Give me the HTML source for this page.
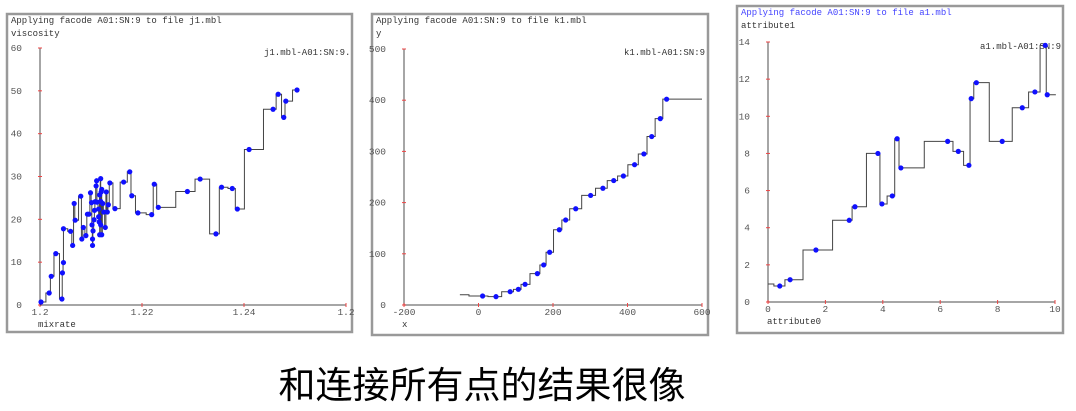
<!DOCTYPE html>
<html><head><meta charset="utf-8"><style>
html,body{margin:0;padding:0;background:#fff;width:1076px;height:411px;overflow:hidden}
svg text{font-family:"Liberation Mono",monospace}
</style></head><body>
<svg id="s" width="1076" height="411" xmlns="http://www.w3.org/2000/svg">
<text x="482" y="398" text-anchor="middle" font-size="37" style='font-family:"Liberation Sans","Noto Sans CJK SC",sans-serif' fill="#000">和连接所有点的结果很像</text>
</svg>
<script>
// Panel 1 data (mixrate vs viscosity)
const p1x=[1.2002,1.2018,1.2022,1.2031,1.2043,1.2044,1.2046,1.2046,1.2060,1.2064,1.2067,1.2069,1.2080,1.2082,1.2085,1.2090,1.2093,1.2096,1.2099,1.2101,1.2102,1.2103,1.2103,1.2104,1.2106,1.2107,1.2108,1.2110,1.2111,1.2112,1.2115,1.2115,1.2116,1.2117,1.2117,1.2119,1.2119,1.2119,1.2120,1.2121,1.2121,1.2123,1.2125,1.2128,1.2130,1.2132,1.2134,1.2137,1.2147,1.2164,1.2176,1.2180,1.2192,1.2219,1.2224,1.2232,1.2289,1.2314,1.2345,1.2356,1.2377,1.2387,1.2410,1.2457,1.2467,1.2478,1.2482,1.2504];
const p1y=[0.7,2.8,6.7,12.0,1.4,7.5,9.9,17.8,17.2,13.9,23.7,19.8,25.4,15.4,18.1,16.2,21.2,21.2,26.2,23.9,18.7,15.4,13.9,17.3,19.9,22.1,24.1,27.8,29.0,24.0,22.4,20.6,19.4,25.7,16.4,29.5,24.2,18.7,26.4,27.0,16.4,23.7,21.7,18.1,26.4,21.7,23.4,28.5,22.5,28.7,31.1,25.5,21.5,21.1,28.2,22.8,26.5,29.4,16.6,27.5,27.2,22.4,36.3,45.7,49.2,43.8,47.6,50.2];
const p1xt=["1.2","1.22","1.24","1.2"];const p1xtv=[1.2,1.22,1.24,1.26];
const p1yt=[0,10,20,30,40,50,60];
// Panel 2 data (x vs y)
const p2x=[11,47,85,107,125,158,175,191,217,234,261,301,334,363,389,419,444,465,488,505];
const p2y=[17.6,16.3,26,30.6,40.4,61.3,78.2,103,147,166,188,214,228,243,252,274,295,329,364,402];
const p2xt=[-200,0,200,400,600];const p2yt=[0,100,200,300,400,500];
// Panel 3 data (attribute0 vs attribute1)
const p3x=[0.41,0.77,1.67,2.83,3.03,3.83,3.97,4.33,4.50,4.63,6.26,6.63,7.00,7.08,7.26,8.16,8.86,9.30,9.66,9.73];
const p3y=[0.86,1.20,2.80,4.40,5.13,8.00,5.28,5.71,8.79,7.22,8.65,8.11,7.36,10.95,11.81,8.65,10.46,11.31,13.82,11.16];
const p3xt=[0,2,4,6,8,10];const p3yt=[0,2,4,6,8,10,12,14];

const NS="http://www.w3.org/2000/svg";const S=document.getElementById('s');
function el(t,a,p){const e=document.createElementNS(NS,t);for(const k in a)e.setAttribute(k,a[k]);(p||S).appendChild(e);return e;}
function txt(x,y,s,sz,fill,anchor,p){const e=el('text',{x:x,y:y,'font-size':sz,fill:fill,'text-anchor':anchor||'start'},p);e.textContent=s;return e;}

function panel(cfg){
  const g=el('g',{});
  
  
  const f=el('rect',{x:cfg.fx,y:cfg.fy,width:cfg.fw,height:cfg.fh,fill:'#fff',stroke:'#999',"stroke-width":2.5},g);
  
  
  const X=v=>cfg.ax0+(v-cfg.xmin)/(cfg.xmax-cfg.xmin)*(cfg.ax1-cfg.ax0);
  const Y=v=>cfg.ay0-(v-cfg.ymin)/(cfg.ymax-cfg.ymin)*(cfg.ay0-cfg.ay1);
  const t=txt(cfg.fx+4,cfg.fy+9,cfg.title,9,cfg.titleColor||'#333','start',g);
  
  
  const yl=txt(cfg.fx+4,cfg.fy+22,cfg.ylab,9,'#333','start',g);
  
  
  const xl=txt(cfg.xlabX,cfg.ay0+22,cfg.xlab,9,'#333','start',g);
  
  
  const cid='c'+cfg.name;const cp=el('clipPath',{id:cid},g);el('rect',{x:cfg.fx,y:cfg.fy,width:cfg.fw-2,height:cfg.fh},cp);
  const lg=txt(cfg.legX,cfg.legY,cfg.leg,9,'#333','start',g);lg.setAttribute('clip-path','url(#'+cid+')');
  
  
  el('line',{x1:cfg.ax0,y1:cfg.ay0,x2:cfg.ax1,y2:cfg.ay0,stroke:'#888','stroke-width':1.5},g);
  el('line',{x1:cfg.ax0,y1:cfg.ay0,x2:cfg.ax0,y2:cfg.ay1,stroke:'#888','stroke-width':1.5},g);
  cfg.xtv.forEach((v,i)=>{el('line',{x1:X(v),y1:cfg.ay0-2,x2:X(v),y2:cfg.ay0+2,stroke:'#e44'},g);
    const l=txt(X(v),cfg.ay0+10,String(cfg.xtl[i]),9.5,'#555','middle',g);l.setAttribute('font-family','Liberation Sans');
    
    });
  cfg.ytv.forEach(v=>{el('line',{x1:cfg.ax0-2,y1:Y(v),x2:cfg.ax0+2,y2:Y(v),stroke:'#e44'},g);
    const l=txt(cfg.ax0-18,Y(v)+3,String(v),9.5,'#555','end',g);l.setAttribute('font-family','Liberation Sans');
    
    });
  const idx=cfg.xs.map((_,i)=>i).sort((a,b)=>cfg.xs[a]-cfg.xs[b]);
  let px=cfg.start[0],py=cfg.start[1];let d='M'+X(px)+','+Y(py);
  idx.forEach(i=>{const x=cfg.xs[i],y=cfg.ys[i];const m=px+(x-px)*cfg.frac;d+=' L'+X(m)+','+Y(py)+' L'+X(m)+','+Y(y)+' L'+X(x)+','+Y(y);px=x;py=y;});
  d+=' L'+X(cfg.end[0])+','+Y(py);
  const pl=el('path',{d:d,fill:'none',stroke:'#444','stroke-width':1},g);
  
  
  cfg.xs.forEach((x,i)=>{const c=el('circle',{cx:X(x),cy:Y(cfg.ys[i]),r:2.6,fill:'#1010ff'},g);
    
    });
}
panel({name:'chart-viscosity',fx:7,fy:14,fw:345,fh:318,ax0:40,ax1:346,ay0:305,ay1:48,xmin:1.2,xmax:1.26,ymin:0,ymax:60,
 title:'Applying facode A01:SN:9 to file j1.mbl',ylab:'viscosity',xlab:'mixrate',xlabX:38,leg:'j1.mbl-A01:SN:9.p',legX:264,legY:55,
 xtv:p1xtv,xtl:p1xt,ytv:p1yt,xs:p1x,ys:p1y,start:[1.2,0],end:[1.2504],frac:0.6});
panel({name:'chart-k1',fx:372,fy:14,fw:336,fh:321,ax0:404,ax1:702,ay0:305,ay1:49,xmin:-200,xmax:600,ymin:0,ymax:500,
 title:'Applying facode A01:SN:9 to file k1.mbl',ylab:'y',xlab:'x',xlabX:402,leg:'k1.mbl-A01:SN:9.p',legX:624,legY:55,
 xtv:p2xt,xtl:p2xt,ytv:p2yt,xs:p2x,ys:p2y,start:[-50,20],end:[600],frac:0.4});
panel({name:'chart-attribute',fx:737,fy:6,fw:326,fh:327,ax0:768,ax1:1055,ay0:302,ay1:42,xmin:0,xmax:10,ymin:0,ymax:14,titleColor:'#4444ff',
 title:'Applying facode A01:SN:9 to file a1.mbl',ylab:'attribute1',xlab:'attribute0',xlabX:767,leg:'a1.mbl-A01:SN:9.p',legX:980,legY:49,
 xtv:p3xt,xtl:p3xt,ytv:p3yt,xs:p3x,ys:p3y,start:[0,0.97],end:[10.03],frac:0.5});
</script>
</body></html>
